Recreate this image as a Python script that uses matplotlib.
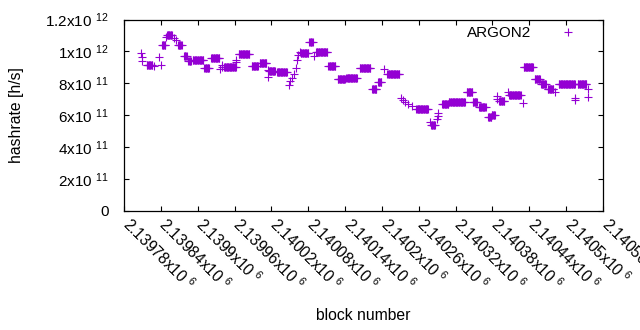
import matplotlib
matplotlib.use('Agg')
import matplotlib.pyplot as plt
import matplotlib.transforms as mtransforms
import numpy as np

plt.rcParams['font.family'] = ['Liberation Sans', 'DejaVu Sans']
plt.rcParams['mathtext.fontset'] = 'custom'
plt.rcParams['mathtext.rm'] = 'Liberation Sans'
plt.rcParams['mathtext.it'] = 'Liberation Sans'
plt.rcParams['mathtext.bf'] = 'Liberation Sans'

# ---- data: runs of constant hashrate estimate (block start, block end, hashrate in GH/s) ----
run_start = [2139807, 2139810, 2139809, 2139817, 2139829, 2139837, 2139841, 2139842,
             2139848, 2139850, 2139861, 2139864, 2139868, 2139878, 2139885, 2139892,
             2139911, 2139922, 2139936, 2139939, 2139940, 2139943, 2139962, 2139963,
             2139967, 2139988, 2140001, 2140015, 2140015, 2140016, 2140029, 2140049,
             2140051, 2140054, 2140057, 2140060, 2140062, 2140064, 2140067, 2140068,
             2140082, 2140089, 2140093, 2140113, 2140128, 2140142, 2140164, 2140184,
             2140194, 2140204, 2140209, 2140231, 2140234, 2140238, 2140243, 2140249,
             2140256, 2140278, 2140280, 2140289, 2140291, 2140292, 2140298, 2140309,
             2140338, 2140348, 2140358, 2140373, 2140379, 2140387, 2140388, 2140391,
             2140406, 2140407, 2140429, 2140431, 2140449, 2140459, 2140470, 2140482,
             2140488, 2140514, 2140515, 2140519, 2140535, 2140535]
run_end = [2139807, 2139810, 2139809, 2139826, 2139829, 2139837, 2139841, 2139847,
           2139848, 2139858, 2139861, 2139864, 2139874, 2139882, 2139889, 2139909,
           2139918, 2139935, 2139936, 2139939, 2139940, 2139962, 2139962, 2139963,
           2139984, 2139998, 2140012, 2140015, 2140015, 2140026, 2140045, 2140049,
           2140051, 2140054, 2140057, 2140060, 2140062, 2140064, 2140067, 2140080,
           2140087, 2140089, 2140111, 2140124, 2140140, 2140159, 2140181, 2140191,
           2140199, 2140204, 2140228, 2140231, 2140234, 2140238, 2140243, 2140249,
           2140275, 2140278, 2140286, 2140289, 2140291, 2140292, 2140308, 2140335,
           2140347, 2140355, 2140369, 2140378, 2140384, 2140387, 2140388, 2140399,
           2140406, 2140426, 2140429, 2140446, 2140457, 2140467, 2140479, 2140482,
           2140514, 2140514, 2140515, 2140533, 2140535, 2140535]
run_value = [9919, 9644, 9394, 9169, 9081, 9644, 9169, 10419,
             10875, 11031, 10844, 10688, 10406, 9719, 9375, 9481,
             8956, 9606, 8919, 9125, 9019, 9031, 9331, 9481,
             9856, 9094, 9294, 8813, 8394, 8781, 8719, 7919,
             8125, 8356, 8563, 8956, 9438, 9794, 9956, 9894,
             10563, 9688, 9969, 9106, 8250, 8344, 8981, 7669,
             8063, 8919, 8606, 7094, 6969, 6844, 6688, 6594,
             6419, 5581, 5406, 5781, 5969, 6125, 6719, 6856,
             7488, 6813, 6519, 5875, 6031, 7000, 7188, 6906,
             7456, 7294, 6794, 9044, 8250, 7981, 7669, 7456,
             7981, 7106, 6981, 7981, 7669, 7144]

xtick_values = [2139780, 2139840, 2139900, 2139960, 2140020, 2140080, 2140140,
                2140200, 2140260, 2140320, 2140380, 2140440, 2140500, 2140560]
xtick_mantissa = ['2.13978', '2.13984', '2.1399', '2.13996', '2.14002', '2.14008', '2.14014',
                  '2.1402', '2.14026', '2.14032', '2.14038', '2.14044', '2.1405', '2.14056']
ytick_values = [0, 2e11, 4e11, 6e11, 8e11, 1e12, 1.2e12]
ytick_labels = ['0', r'2x10 $^{11}$', r'4x10 $^{11}$', r'6x10 $^{11}$', r'8x10 $^{11}$',
                r'1x10 $^{12}$', r'1.2x10 $^{12}$']

# expand runs into per-block points
xs, ys = [], []
for s, e, v in zip(run_start, run_end, run_value):
    b = np.arange(s, e + 1)
    xs.append(b)
    ys.append(np.full(b.shape, v * 1e8))
xs = np.concatenate(xs)
ys = np.concatenate(ys)

color = '#9400D3'
fig = plt.figure(figsize=(6.4, 3.3), dpi=100)
ax = fig.add_axes([124 / 640, (330 - 211) / 330, (603 - 124) / 640, (211 - 19.5) / 330])

ax.plot(xs, ys, linestyle='none', marker='+', markersize=5.2, markeredgewidth=0.8,
        color=color, label='ARGON2')

ax.set_xlim(xtick_values[0], xtick_values[-1])
ax.set_ylim(0, 1.2e12)

ax.set_xticks(xtick_values)
ax.set_xticklabels([m + r'x10 $^{6}$' for m in xtick_mantissa], rotation=-45,
                   ha='left', va='baseline', rotation_mode='anchor', fontsize=11.2)
ax.set_yticks(ytick_values)
ax.set_yticklabels(ytick_labels, fontsize=11)

ax.tick_params(direction='in', length=3.5, width=0.8, top=True, right=True,
               colors='black')
ax.tick_params(axis='x', pad=10.6)
ax.tick_params(axis='y', pad=11)
for sp in ax.spines.values():
    sp.set_linewidth(0.9)

offset = mtransforms.ScaledTranslation(-3.0 / 100, 0, fig.dpi_scale_trans)
for lbl in ax.get_xticklabels():
    lbl.set_transform(lbl.get_transform() + offset)

fig.text(363 / 640, 1 - 315 / 330, 'block number', ha='center', va='center', fontsize=11.3)
fig.text(17 / 640, 1 - 115 / 330, 'hashrate [h/s]', ha='center', va='center',
         rotation=90, fontsize=11.3)

ax.legend(loc='upper right', bbox_to_anchor=(0.9587, 0.9645), markerfirst=False,
          frameon=False, fontsize=11, handlelength=2.0, handletextpad=1.4,
          borderpad=0.0, borderaxespad=0.0)

fig.savefig('out.png', dpi=100)
